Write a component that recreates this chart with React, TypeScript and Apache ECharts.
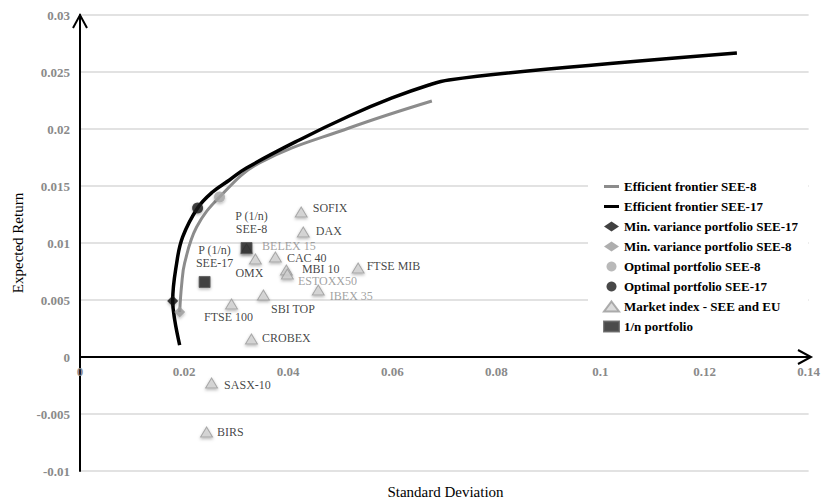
import React, { useEffect, useRef } from "react";
import * as echarts from "echarts";

// ---- Data ----
const frontierSEE8: [number, number][] = [
  [0.01915, 0.00395],
  [0.01953, 0.00632],
  [0.02011, 0.00825],
  [0.02241, 0.0114],
  [0.02681, 0.01404],
  [0.03448, 0.01702],
  [0.05171, 0.02009],
  [0.06761, 0.02246],
];

const frontierSEE17: [number, number][] = [
  [0.01915, 0.00105],
  [0.0182, 0.00325],
  [0.01781, 0.00491],
  [0.01858, 0.00825],
  [0.01973, 0.01053],
  [0.0226, 0.01307],
  [0.02547, 0.01447],
  [0.02873, 0.01553],
  [0.03199, 0.01658],
  [0.04214, 0.01904],
  [0.05171, 0.02114],
  [0.05995, 0.02272],
  [0.06704, 0.02386],
  [0.07087, 0.0243],
  [0.09002, 0.02526],
  [0.12622, 0.02667],
];

const minVarSEE17: [number, number] = [0.01781, 0.00491];
const minVarSEE8: [number, number] = [0.01915, 0.00395];
const optimalSEE8: [number, number] = [0.02681, 0.01404];
const optimalSEE17: [number, number] = [0.0226, 0.01307];

const indexNames = [
  "SOFIX", "DAX", "BELEX 15", "CAC 40", "OMX", "MBI 10", "ESTOXX50",
  "FTSE MIB", "IBEX 35", "SBI TOP", "FTSE 100", "CROBEX", "SASX-10", "BIRS",
];
const indexSD = [
  0.0425, 0.0429, 0.032, 0.03754, 0.0337, 0.03965, 0.03984,
  0.05344, 0.04578, 0.03524, 0.02911, 0.03294, 0.02528, 0.02432,
];
const indexReturn = [
  0.01272, 0.01096, 0.0095, 0.00877, 0.0086, 0.00763, 0.00728,
  0.00781, 0.00588, 0.00544, 0.00465, 0.00158, -0.00228, -0.00658,
];

const naiveNames = ["P (1/n)\nSEE-8", "P (1/n)\nSEE-17"];
const naiveSD = [0.032, 0.02394];
const naiveReturn = [0.00956, 0.00658];

const legendNames = [
  "Efficient frontier SEE-8",
  "Efficient frontier SEE-17",
  "Min. variance portfolio SEE-17",
  "Min. variance portfolio SEE-8",
  "Optimal portfolio SEE-8",
  "Optimal portfolio SEE-17",
  "Market index - SEE and EU",
  "1/n portfolio",
];

// ---- Styling (label placement per index) ----
const SERIF = '"Liberation Serif", "Times New Roman", serif';
const indexLabelStyle: Record<string, any> = {
  SOFIX: { position: "right", distance: 5, offset: [0, -4] },
  DAX: { position: "right", distance: 6, offset: [0, -1] },
  "BELEX 15": { position: "right", distance: 9, offset: [0, -3], color: "#8a8a8a" },
  "CAC 40": { position: "right", distance: 5, offset: [0, 1] },
  OMX: { position: "bottom", distance: 3, offset: [-6, 0] },
  "MBI 10": { position: "right", distance: 9, offset: [0, -1] },
  ESTOXX50: { position: "right", distance: 4, offset: [0, 7], color: "#8a8a8a" },
  "FTSE MIB": { position: "right", distance: 2, offset: [0, -2] },
  "IBEX 35": { position: "right", distance: 5, offset: [0, 6], color: "#8a8a8a" },
  "SBI TOP": { position: "right", distance: 1, offset: [0, 14] },
  "FTSE 100": { position: "bottom", distance: 2, offset: [-3, 0] },
  CROBEX: { position: "right", distance: 4, offset: [0, -1] },
  "SASX-10": { position: "right", distance: 6, offset: [0, 2] },
  BIRS: { position: "right", distance: 4, offset: [0, 0] },
};
const naiveLabelStyle = [
  { position: "top", distance: 7, offset: [5, 0] },
  { position: "top", distance: 6, offset: [10, 0] },
];

const shadow = { shadowBlur: 3, shadowColor: "rgba(0,0,0,0.35)", shadowOffsetY: 1.5 };
const LINE_ICON = "path://M0,0 L15,0 L15,3 L0,3 Z";

export default function App() {
  const ref = useRef<HTMLDivElement>(null);

  useEffect(() => {
    if (!ref.current) return;
    const chart = echarts.init(ref.current, undefined, { renderer: "svg" });

    const gridLeft = 80;
    const gridRight = 12;
    const gridTop = 15;
    const gridBottom = 31;
    const W = 823;
    const H = 502;
    const yMin = -0.01;
    const yMax = 0.03;
    const plotH = H - gridTop - gridBottom;
    const zeroY = gridTop + (plotH * yMax) / (yMax - yMin);
    const xAxisOffset = -(H - gridBottom - zeroY);

    const option: any = {
      animation: false,
      backgroundColor: "#fff",
      grid: { left: gridLeft, right: gridRight, top: gridTop, bottom: gridBottom },
      xAxis: {
        type: "value",
        min: 0,
        max: 0.14,
        interval: 0.02,
        offset: xAxisOffset,
        splitLine: { show: false },
        axisTick: { show: false },
        axisLine: { show: true, onZero: false, lineStyle: { color: "#000", width: 2 } },
        axisLabel: {
          color: "#8a8a8a",
          fontFamily: SERIF,
          fontWeight: "bold",
          fontSize: 13,
          margin: 8,
        },
      },
      yAxis: {
        type: "value",
        min: yMin,
        max: yMax,
        interval: 0.005,
        name: "Expected Return",
        nameLocation: "middle",
        nameGap: 50,
        nameTextStyle: { fontFamily: SERIF, fontSize: 15, color: "#000" },
        axisTick: { show: false },
        axisLine: { show: true, onZero: true, lineStyle: { color: "#000", width: 2 } },
        splitLine: { show: true, lineStyle: { color: "#d9d9d9", width: 1.5 } },
        axisLabel: {
          color: "#8a8a8a",
          fontFamily: SERIF,
          fontWeight: "bold",
          fontSize: 13,
          margin: 10,
        },
      },
      legend: {
        orient: "vertical",
        left: 588,
        top: 173,
        padding: [7, 10, 7, 15],
        backgroundColor: "#fff",
        itemWidth: 15,
        itemHeight: 10,
        itemGap: 7,
        textStyle: { fontFamily: SERIF, fontWeight: "bold", fontSize: 13, color: "#000" },
        data: legendNames.map((n, i) => (i < 2 ? { name: n, icon: LINE_ICON } : { name: n })),
      },
      graphic: [
        {
          type: "polyline",
          shape: { points: [[gridLeft - 7, gridTop + 13], [gridLeft, gridTop], [gridLeft + 7, gridTop + 13]] },
          style: { stroke: "#000", lineWidth: 2, fill: "none" },
          z: 100,
        },
        {
          type: "polyline",
          shape: {
            points: [
              [W - gridRight - 13, zeroY - 7],
              [W - gridRight, zeroY],
              [W - gridRight - 13, zeroY + 7],
            ],
          },
          style: { stroke: "#000", lineWidth: 2, fill: "none" },
          z: 100,
        },
        {
          type: "text",
          x: gridLeft + (W - gridLeft - gridRight) / 2,
          y: H - 10,
          style: {
            text: "Standard Deviation",
            fontFamily: SERIF,
            fontSize: 15,
            fill: "#000",
            align: "center",
            verticalAlign: "middle",
          },
        },
      ],
      series: [
        {
          name: legendNames[0],
          type: "line",
          data: frontierSEE8,
          symbol: "none",
          smooth: 0.4,
          lineStyle: { color: "#8c8c8c", width: 3 },
          itemStyle: { color: "#8c8c8c" },
          z: 2,
        },
        {
          name: legendNames[1],
          type: "line",
          data: frontierSEE17,
          symbol: "none",
          smooth: 0.4,
          lineStyle: { color: "#000", width: 3.5 },
          itemStyle: { color: "#000" },
          z: 3,
        },
        {
          name: legendNames[6],
          type: "scatter",
          symbol: "triangle",
          symbolSize: [12, 10],
          itemStyle: { color: "#d2d2d2", borderColor: "#9a9a9a", borderWidth: 1, ...shadow },
          data: indexNames.map((n, i) => {
            const s = indexLabelStyle[n] || {};
            return {
              name: n,
              value: [indexSD[i], indexReturn[i]],
              label: {
                show: true,
                formatter: n,
                position: s.position,
                distance: s.distance,
                offset: s.offset,
                color: s.color || "#111",
                fontFamily: SERIF,
                fontSize: 12,
              },
            };
          }),
          z: 4,
        },
        {
          name: legendNames[7],
          type: "scatter",
          symbol: "rect",
          symbolSize: 11,
          itemStyle: { color: "#1e1e1e", borderColor: "#5a5a5a", borderWidth: 1, ...shadow },
          data: naiveNames.map((n, i) => ({
            name: n,
            value: [naiveSD[i], naiveReturn[i]],
            label: {
              show: true,
              formatter: n,
              position: naiveLabelStyle[i].position,
              distance: naiveLabelStyle[i].distance,
              offset: naiveLabelStyle[i].offset,
              color: "#111",
              fontFamily: SERIF,
              fontSize: 12,
              lineHeight: 13,
            },
          })),
          z: 5,
        },
        {
          name: legendNames[2],
          type: "scatter",
          symbol: "diamond",
          symbolSize: 11,
          itemStyle: { color: "#111", ...shadow },
          data: [minVarSEE17],
          z: 6,
        },
        {
          name: legendNames[3],
          type: "scatter",
          symbol: "diamond",
          symbolSize: 11,
          itemStyle: { color: "#9a9a9a", ...shadow },
          data: [minVarSEE8],
          z: 6,
        },
        {
          name: legendNames[4],
          type: "scatter",
          symbol: "circle",
          symbolSize: 11,
          itemStyle: { color: "#a8a8a8", ...shadow },
          data: [optimalSEE8],
          z: 6,
        },
        {
          name: legendNames[5],
          type: "scatter",
          symbol: "circle",
          symbolSize: 11,
          itemStyle: { color: "#1a1a1a", ...shadow },
          data: [optimalSEE17],
          z: 6,
        },
      ],
    };

    chart.setOption(option);
    return () => chart.dispose();
  }, []);

  return (
    <div
      ref={ref}
      style={{ position: "fixed", left: 0, top: 0, width: 823, height: 502, background: "#fff" }}
    />
  );
}
